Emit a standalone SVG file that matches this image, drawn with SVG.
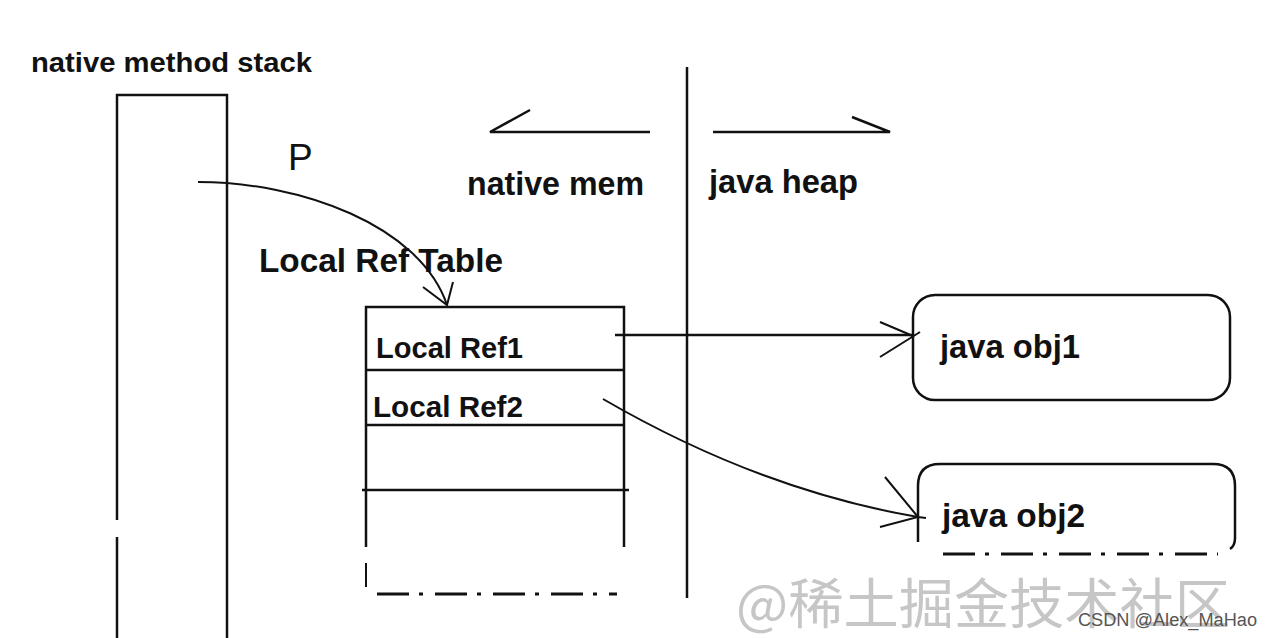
<svg xmlns="http://www.w3.org/2000/svg" width="1272" height="638" viewBox="0 0 1272 638">
<style>
.ln{fill:none;stroke:#111;stroke-width:2.5;stroke-linecap:butt}
.thin{fill:none;stroke:#111;stroke-width:2}
.lbl{font-family:"Liberation Sans",Arial,sans-serif;font-weight:bold;fill:#111}
.dd{fill:none;stroke:#111;stroke-width:3;stroke-dasharray:32 10 4 12}
</style>
<rect width="1272" height="638" fill="#ffffff"/>
<g id="watermark">
<text x="736" y="624" font-family="'Noto Sans CJK SC',sans-serif" font-size="54" fill="#c6c6c6" textLength="494" lengthAdjust="spacingAndGlyphs">@稀土掘金技术社区</text>
<text x="1078" y="626" font-family="'Liberation Sans',Arial,sans-serif" font-size="18" fill="#555" textLength="179" lengthAdjust="spacingAndGlyphs">CSDN @Alex_MaHao</text>
</g>
<g id="stack">
<text class="lbl" x="31" y="72" font-size="28" textLength="281" lengthAdjust="spacingAndGlyphs">native method stack</text>
<path class="ln" d="M117,638 L117,537 M117,520 L117,95 L227,95 L227,638"/>
</g>
<g id="divider">
<line class="ln" x1="687" y1="67" x2="687" y2="598"/>
<path class="ln" d="M650,132 L490,132 L530,110"/>
<text class="lbl" x="467" y="195" font-size="34" textLength="177" lengthAdjust="spacingAndGlyphs">native mem</text>
<path class="ln" d="M713,132 L890,132 L852,117"/>
<text class="lbl" x="709" y="193" font-size="34" textLength="149" lengthAdjust="spacingAndGlyphs">java heap</text>
</g>
<g id="localRefTable">
<text class="lbl" x="259" y="272" font-size="34" textLength="244" lengthAdjust="spacingAndGlyphs">Local Ref Table</text>
<path class="ln" d="M366,547 L366,307 L624,307 L624,547"/>
<line class="ln" x1="366" y1="370" x2="624" y2="370"/>
<line class="ln" x1="366" y1="425" x2="624" y2="425"/>
<line class="ln" x1="362" y1="490" x2="629" y2="490"/>
<line class="thin" x1="366" y1="563" x2="366" y2="587"/>
<line class="dd" x1="377" y1="594" x2="617" y2="594"/>
<text class="lbl" x="376" y="358" font-size="30" textLength="147" lengthAdjust="spacingAndGlyphs">Local Ref1</text>
<text class="lbl" x="373" y="417" font-size="30" textLength="150" lengthAdjust="spacingAndGlyphs">Local Ref2</text>
</g>
<g id="obj1">
<rect class="ln" x="913" y="295" width="317" height="105" rx="22" ry="22"/>
<text class="lbl" x="940" y="358" font-size="34" textLength="140" lengthAdjust="spacingAndGlyphs">java obj1</text>
</g>
<g id="obj2">
<path class="ln" d="M918,542 L918,486 Q918,464 940,464 L1213,464 Q1235,464 1235,486 L1235,538 Q1235,546 1230,549"/>
<line class="dd" x1="943" y1="554" x2="1218" y2="554"/>
<text class="lbl" x="942" y="527" font-size="34" textLength="143" lengthAdjust="spacingAndGlyphs">java obj2</text>
</g>
<g id="connectors">
<text x="288" y="170" font-family="'Liberation Sans',Arial,sans-serif" font-size="37" fill="#111">P</text>
<path class="thin" d="M198,182 C300,182 420,225 447,305"/>
<path class="thin" d="M423,287 L447,305 L453,282"/>
<line class="ln" x1="615" y1="335" x2="913" y2="335"/>
<path class="thin" d="M880,322 L913,336 M880,357 L920,332"/>
<path class="thin" d="M603,399 Q760,490 918,517"/>
<path class="thin" d="M885,477 L918,517 L880,527 M918,517 L926,518"/>
</g>
</svg>
